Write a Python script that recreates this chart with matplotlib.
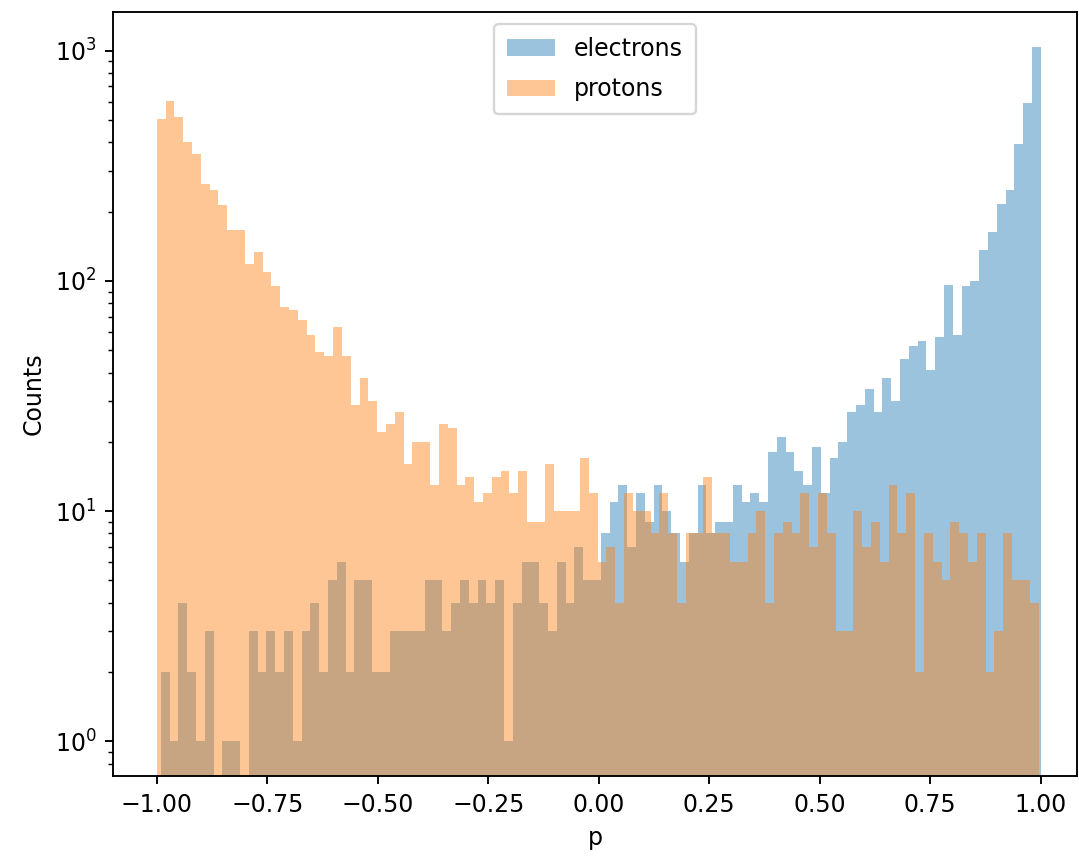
import numpy as np
import matplotlib.pyplot as plt

# each sample was binned over its own range, 100 bins
electron_range = (-0.991, 1.0)
proton_range = (-1.0, 0.995)

electron_counts = [
    2, 1, 4, 2, 1, 3, 0, 1, 1, 0, 3, 2, 3, 2, 3, 1,
    3, 4, 2, 5, 6, 2, 5, 5, 2, 2, 3, 3, 3, 3, 5, 5, 3,
    4, 5, 4, 5, 4, 5, 1, 4, 6, 6, 4, 3, 6, 4, 7, 5,
    5, 8, 11, 13, 7, 12, 9, 13, 10, 8, 6, 8, 13, 8, 9, 9,
    13, 11, 12, 11, 18, 21, 18, 15, 13, 19, 12, 17, 20, 27, 29, 34, 27,
    38, 30, 46, 52, 55, 41, 57, 96, 58, 95, 100, 137, 163, 216, 248, 394, 591, 1042,
]

proton_counts = [
    508, 603, 515, 402, 355, 264, 248, 213, 166, 166, 119, 134, 109, 95, 77, 75, 68,
    58, 49, 47, 63, 47, 29, 38, 30, 22, 24, 27, 16, 20, 20, 13, 24,
    23, 13, 14, 11, 12, 14, 15, 12, 15, 9, 9, 16, 10, 10, 10, 17, 12,
    6, 7, 4, 12, 10, 10, 8, 12, 8, 4, 8, 8, 14, 8, 8,
    6, 6, 8, 10, 4, 8, 9, 8, 12, 7, 12, 8, 3, 3, 10, 7, 9, 6,
    13, 8, 12, 2, 8, 6, 5, 9, 8, 6, 8, 2, 3, 8, 5, 5, 4,
]

e_edges = np.linspace(*electron_range, len(electron_counts) + 1)
p_edges = np.linspace(*proton_range, len(proton_counts) + 1)

fig = plt.figure(figsize=(1079 / 170, 859 / 170), dpi=170)
ax = fig.add_axes([113 / 1079, 1 - 776 / 859, 964 / 1079, 764 / 859])

ax.hist(e_edges[:-1], bins=e_edges, weights=electron_counts,
        alpha=0.44, label='electrons', log=True)
ax.hist(p_edges[:-1], bins=p_edges, weights=proton_counts,
        alpha=0.44, label='protons', log=True)

ax.set_xlim(-1.099, 1.082)
ax.set_xlabel('p')
ax.set_ylabel('Counts')
ax.legend(loc='upper center', borderpad=0.55, labelspacing=0.7)

fig.savefig('out.png', dpi=170)
